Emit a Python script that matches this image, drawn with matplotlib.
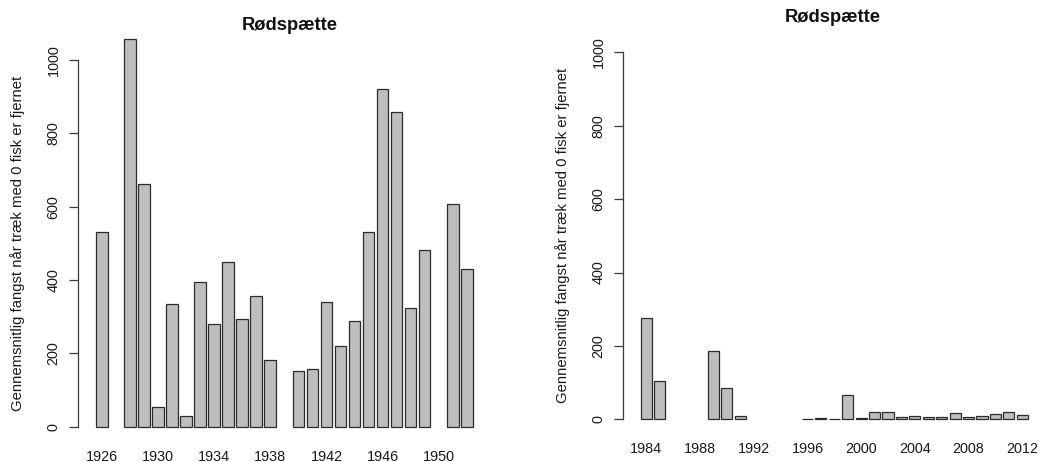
import matplotlib
matplotlib.use("Agg")
import matplotlib.pyplot as plt
import numpy as np

plt.rcParams['font.family'] = ['Liberation Sans', 'DejaVu Sans']

# data (NaN = no bar that year)
years_left = np.arange(1926, 1954)
catch_left = [530, np.nan, 1058, 663, 54, 335, 29, 395, 279, 449, 293, 356, 181,
              np.nan, 151, 156, 339, 220, 288, 530, 922, 858, 323, 481, np.nan,
              607, 431, np.nan]

years_right = np.arange(1984, 2013)
catch_right = [275, 104, np.nan, np.nan, np.nan, 187, 84, 9,
               np.nan, np.nan, np.nan, np.nan,
               1, 4, 1, 67, 4, 19, 19, 5, 9, 5, 7, 18, 5, 8, 15, 21, 13]

xticks_left = list(range(1926, 1951, 4))
xticks_right = list(range(1984, 2013, 4))
yticks = [0, 200, 400, 600, 800, 1000]

title = "Rødspætte"
ylab = "Gennemsnitlig fangst når træk med 0 fisk er fjernet"

fig = plt.figure(figsize=(10.46, 4.62), dpi=100)
W, H = 1046, 462


def rbar(ax, years, vals, xticks, lab_x):
    years = np.asarray(years)
    vals = np.asarray(vals, dtype=float)
    n = len(years)
    # R barplot geometry: width 1, space 0.2, 4% axis extension
    ext = 0.04 * n * 1.2
    x_lo = years[0] - (0.7 + ext) / 1.2
    x_hi = years[-1] + (0.5 + ext) / 1.2
    ok = ~np.isnan(vals)
    ax.bar(years[ok], vals[ok], width=1 / 1.2, color='#bebebe',
           edgecolor='#2b2b2b', linewidth=0.9, clip_on=False, zorder=3)
    ax.set_xlim(x_lo, x_hi)
    ax.set_ylim(-40, 1040)
    for s in ['top', 'right', 'bottom']:
        ax.spines[s].set_visible(False)
    ax.spines['left'].set_bounds(0, 1000)
    ax.spines['left'].set_color('#3a3a3a')
    ax.spines['left'].set_linewidth(0.9)
    ax.set_yticks(yticks)
    ax.set_yticklabels([str(v) for v in yticks], rotation=90, va='center')
    ax.tick_params(axis='y', length=6.5, width=0.9, color='#3a3a3a', pad=6,
                   labelsize=10.4, labelcolor='#1a1a1a')
    ax.set_xticks(xticks)
    ax.set_xticklabels([str(v) for v in xticks])
    ax.tick_params(axis='x', length=0, pad=6, labelsize=10.4, labelcolor='#1a1a1a')
    ax.set_title(title, fontsize=13.2, fontweight='bold', pad=11, color='#111111')
    ax.set_ylabel(ylab, fontsize=10.7, color='#1a1a1a')
    ax.yaxis.label.set_va('center')
    ax.yaxis.set_label_coords(lab_x, 0.5)


# left panel
l0, l1 = 78.1, 502.3
b0, t0 = 441.3, 45.3
ax1 = fig.add_axes([l0 / W, (H - b0) / H, (l1 - l0) / W, (b0 - t0) / H])
rbar(ax1, years_left, catch_left, xticks_left, (18 - l0) / (l1 - l0))

# right panel
r0, r1 = 622.9, 1043.5
b1, t1 = 434.0, 37.65
ax2 = fig.add_axes([r0 / W, (H - b1) / H, (r1 - r0) / W, (b1 - t1) / H])
rbar(ax2, years_right, catch_right, xticks_right, (563 - r0) / (r1 - r0))

fig.savefig("out.png", dpi=100)
